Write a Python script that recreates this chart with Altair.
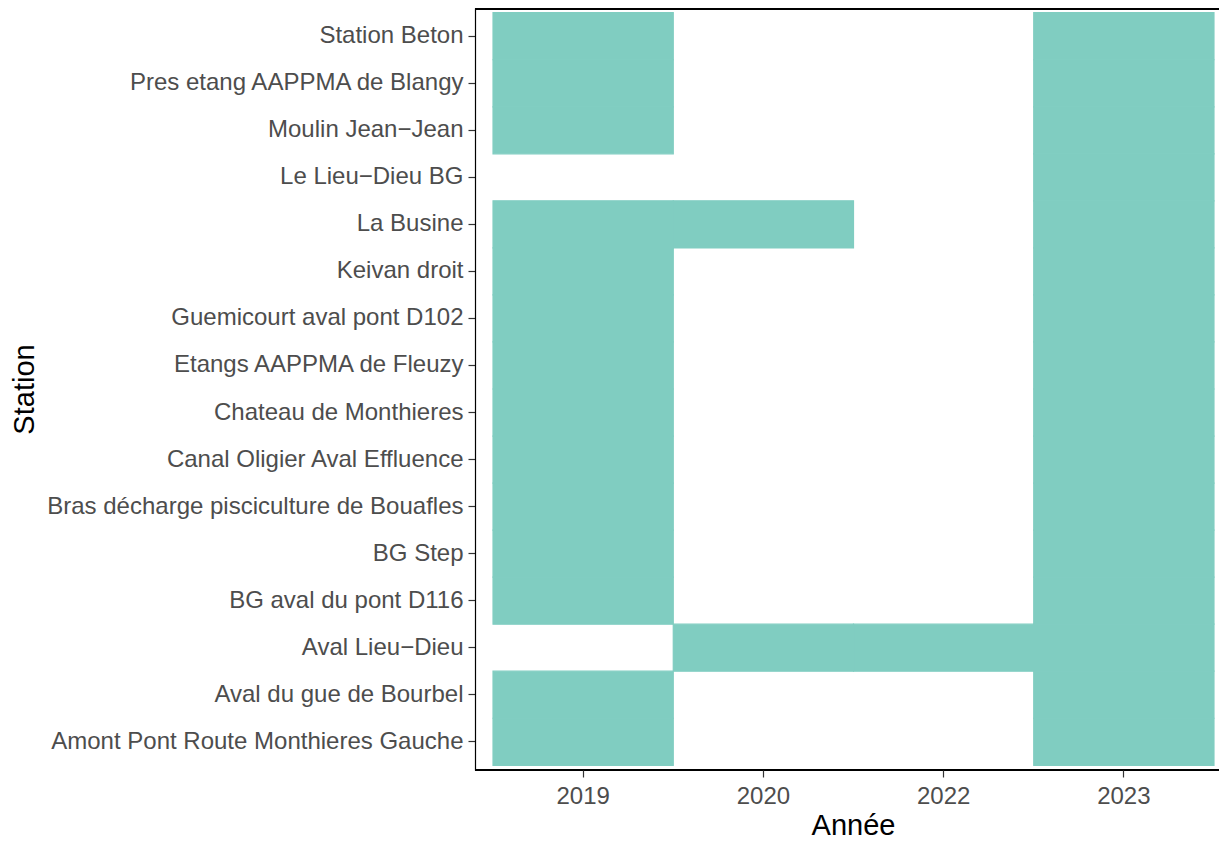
import altair as alt
import pandas as pd

stations = [
    "Station Beton",
    "Pres etang AAPPMA de Blangy",
    "Moulin Jean−Jean",
    "Le Lieu−Dieu BG ",
    "La Busine",
    "Keivan droit",
    "Guemicourt aval pont D102",
    "Etangs AAPPMA de Fleuzy",
    "Chateau de Monthieres",
    "Canal Oligier Aval Effluence",
    "Bras décharge pisciculture de Bouafles",
    "BG Step",
    "BG aval du pont D116",
    "Aval Lieu−Dieu",
    "Aval du gue de Bourbel",
    "Amont Pont Route Monthieres Gauche",
]
years = ["2019", "2020", "2022", "2023"]

# years sampled for each station (same order as stations)
sampled = [
    ["2019", "2023"],
    ["2019", "2023"],
    ["2019", "2023"],
    ["2023"],
    ["2019", "2020", "2023"],
    ["2019", "2023"],
    ["2019", "2023"],
    ["2019", "2023"],
    ["2019", "2023"],
    ["2019", "2023"],
    ["2019", "2023"],
    ["2019", "2023"],
    ["2019", "2023"],
    ["2020", "2022", "2023"],
    ["2019", "2023"],
    ["2019", "2023"],
]

rows = []
for s, ys in zip(stations, sampled):
    for y in ys:
        rows.append({"Station": s, "Annee": y})
df = pd.DataFrame(rows)

FILL = "#80CDC1"
FONT = "Liberation Sans"

base = alt.Chart(df)

tiles = base.mark_rect(color=FILL, stroke=FILL, strokeWidth=1.2, opacity=1).encode(
    x=alt.X(
        "Annee:N",
        sort=years,
        scale=alt.Scale(domain=years, range=[0, 757], paddingInner=0, paddingOuter=0.1),
        axis=alt.Axis(
            title="Année",
            titleFont=FONT,
            titleFontSize=29,
            titleFontWeight="normal",
            titleColor="black",
            titleX=378,
            titleY=64,
            titleBaseline="alphabetic",
            titleAlign="center",
            labelFont=FONT,
            labelFontSize=24,
            labelColor="#4D4D4D",
            labelPadding=7,
            labelAngle=0,
            tickSize=7,
            tickWidth=1.2,
            tickColor="#333333",
            domain=False,
            grid=False,
        ),
    ),
    y=alt.Y(
        "Station:N",
        sort=stations,
        scale=alt.Scale(domain=stations, paddingInner=0, paddingOuter=0.1),
        axis=alt.Axis(
            title="Station",
            titleFont=FONT,
            titleFontSize=29,
            titleFontWeight="normal",
            titleColor="black",
            titleX=-442,
            titleY=381,
            titleAngle=-90,
            titleAlign="center",
            titleBaseline="alphabetic",
            labelFont=FONT,
            labelFontSize=24,
            labelColor="#4D4D4D",
            labelPadding=5,
            labelLimit=1000,
            tickSize=7,
            tickWidth=1.2,
            tickColor="#333333",
            domainColor="black",
            domainWidth=1.2,
            grid=False,
        ),
    ),
)

top_line = base.mark_rule(color="black", strokeWidth=1.2).encode(
    x=alt.value(0), x2=alt.value(744), y=alt.value(0.6)
)
bottom_line = base.mark_rule(color="black", strokeWidth=1.2).encode(
    x=alt.value(0), x2=alt.value(744), y=alt.value(762)
)

chart = (
    alt.layer(tiles, top_line, bottom_line)
    .properties(
        width=744,
        height=762,
        autosize=alt.AutoSizeParams(type="none"),
        padding={"left": 467, "top": 0, "right": 0, "bottom": 65},
    )
    .configure_view(stroke=None)
    .configure(background="white")
)

chart.save("out.html", embed_options={"renderer": "svg", "actions": False})
